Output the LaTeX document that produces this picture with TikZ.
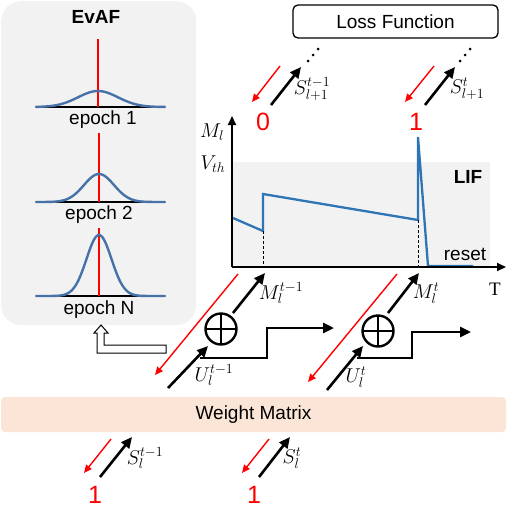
\RequirePackage{fix-cm}
\documentclass[tikz,border=0pt]{standalone}
\usepackage[no-math]{fontspec}
\setmainfont{Liberation Sans}
\newfontfamily\serifT{Liberation Serif}
\usetikzlibrary{arrows.meta}
\definecolor{panelgray}{RGB}{242,242,242}
\definecolor{peach}{RGB}{251,229,214}
\definecolor{gblue}{RGB}{70,114,168}
\definecolor{lifblue}{RGB}{46,117,182}
\definecolor{pured}{RGB}{255,0,0}
\begin{document}
\begin{tikzpicture}[x=1pt,y=-1pt,
  lbl/.style={font=\fontsize{19}{21}\selectfont, inner sep=0pt},
  blbl/.style={font=\fontsize{19}{21}\selectfont\bfseries, inner sep=0pt},
  mlbl/.style={font=\fontsize{20}{22}\selectfont, inner sep=0pt},
  digit/.style={font=\fontsize{25}{27}\selectfont, text=pured, inner sep=0pt},
  blkarrow/.style={line width=2.6pt, -{Triangle[length=11pt,width=10pt]}},
  redarrow/.style={draw=pured, line width=1.4pt, -{Triangle[length=8pt,width=7pt]}},
  gauss/.style={gblue, line width=2.4pt, line cap=round},
  plusnode/.style={circle, draw, line width=2.4pt, minimum size=31pt, inner sep=0pt, outer sep=0pt}
]
\useasboundingbox (0,0) rectangle (508,504);

% ---------- EvAF panel ----------
\node[fill=panelgray, rounded corners=20pt, minimum width=195pt, minimum height=324pt, anchor=north west, inner sep=0pt] (evaf) at (1,1) {};
\node[blbl] (evaftitle) at (96,17) {EvAF};

% epoch 1
\draw[line width=1.4pt] (38,107) -- (163,107);
\draw[pured, line width=2pt] (98,39) -- (98,107);
\draw[gauss] plot[domain=36:165, samples=80, smooth] (\x,{107-16*exp(-((\x-98)^2)/(2*20^2))});
\node[lbl] (ep1) at (103,120) {epoch 1};

% epoch 2
\draw[line width=1.4pt] (38,202) -- (163,202);
\draw[pured, line width=2pt] (99,133) -- (99,202);
\draw[gauss] plot[domain=36:165, samples=80, smooth] (\x,{202-28*exp(-((\x-99)^2)/(2*15^2))});
\node[lbl] (ep2) at (99,215) {epoch 2};

% epoch N
\draw[line width=1.4pt] (38,296) -- (163,296);
\draw[pured, line width=2pt] (99,228) -- (99,296);
\draw[gauss] plot[domain=36:165, samples=100, smooth] (\x,{296-61*exp(-((\x-99)^2)/(2*12.5^2))});
\node[lbl] (epN) at (99,310) {epoch N};

% hollow arrow
\draw[line width=1pt, fill=white, line join=miter]
  (97,353) -- (166,353) -- (166,345) -- (104,345) -- (104,333) -- (108,333)
  -- (101,325) -- (94,333) -- (97,333) -- cycle;

% ---------- Loss Function ----------
\node[draw, line width=1.3pt, rounded corners=5pt, minimum width=205pt, minimum height=33pt, inner sep=0pt,
      font=\fontsize{19}{21}\selectfont] (loss) at (395.5,21.5) {Loss Function};
\foreach \x/\y in {308/61,313/55,318/49, 460/61,465/55,470/49}
  \fill (\x,\y) circle (1.5pt);

% top arrows
\coordinate (r1s) at (280,66); \coordinate (r1e) at (252,102);
\coordinate (b1s) at (271,105); \coordinate (b1e) at (301,67);
\coordinate (r2s) at (434,66); \coordinate (r2e) at (405,102);
\coordinate (b2s) at (425,105); \coordinate (b2e) at (455,67);
\draw[redarrow] (r1s) -- (r1e);
\draw[blkarrow] (b1s) -- (b1e);
\draw[redarrow] (r2s) -- (r2e);
\draw[blkarrow] (b2s) -- (b2e);
\node[mlbl] (s1lbl) at (312,89) {$S^{t-1}_{l+1}$};
\node[mlbl] (s2lbl) at (467,89) {$S^{t}_{l+1}$};
\node[digit] (d0) at (263,122) {0};
\node[digit] (d1) at (416,122) {1};

% ---------- LIF chart ----------
\fill[panelgray] (232,162) rectangle (490,267);
\coordinate (orig) at (232,267);
\coordinate (ytip) at (232,116);
\coordinate (xtip) at (506,267);
\draw[lifblue, line width=2.3pt, line join=miter]
  (233,218) -- (263,231) -- (263,194) -- (418,220) -- (418,137) -- (428,266) -- (473,266);
\draw[line width=0.8pt, dash pattern=on 3pt off 2pt] (263,231) -- (263,267);
\draw[line width=0.8pt, dash pattern=on 3pt off 2pt] (418,220) -- (418,267);
\draw[line width=2pt, -{Triangle[length=9pt,width=8pt]}] (orig) -- (ytip);
\draw[line width=2pt, -{Triangle[length=9pt,width=8pt]}] (orig) -- (xtip);
\node[mlbl] (mlab) at (212,132) {$M_l$};
\node[mlbl] (vth) at (213,164) {$V_{th}$};
\node[blbl] (lif) at (468,177) {LIF};
\node[lbl] (reset) at (465,254) {reset};
\node[font=\fontsize{19}{21}\selectfont\serifT, inner sep=0pt] (T) at (495,289) {T};

% ---------- lower time steps ----------
% step t-1
\node[plusnode] (p1) at (221,329) {};
\draw[line width=2.4pt] (p1.north) -- (p1.south) (p1.west) -- (p1.east);
\coordinate (lr1s) at (238,274); \coordinate (lr1e) at (155,375);
\draw[redarrow] (lr1s) -- (lr1e);
\coordinate (m1s) at (233,313); \coordinate (m1e) at (265,273);
\draw[blkarrow] (m1s) -- (m1e);
\node[mlbl] (m1lbl) at (281,293) {$M^{t-1}_{l}$};
\coordinate (u1s) at (168,388); \coordinate (u1e) at (208,346);
\draw[blkarrow] (u1s) -- (u1e);
\node[mlbl] (u1lbl) at (214,375) {$U^{t-1}_{l}$};
\coordinate (st1a) at (200,358); \coordinate (st1b) at (267,358);
\coordinate (st1c) at (267,328); \coordinate (st1d) at (334,328);
\draw[line width=2.6pt, -{Triangle[length=11pt,width=10pt]}, line join=miter] (st1a) -- (st1b) -- (st1c) -- (st1d);

% step t
\node[plusnode] (p2) at (378,331) {};
\draw[line width=2.4pt] (p2.north) -- (p2.south) (p2.west) -- (p2.east);
\coordinate (lr2s) at (397,274); \coordinate (lr2e) at (308,382);
\draw[redarrow] (lr2s) -- (lr2e);
\coordinate (m2s) at (388,313); \coordinate (m2e) at (419,273);
\draw[blkarrow] (m2s) -- (m2e);
\node[mlbl] (m2lbl) at (426,293) {$M^{t}_{l}$};
\coordinate (u2s) at (327,390); \coordinate (u2e) at (363,346);
\draw[blkarrow] (u2s) -- (u2e);
\node[mlbl] (u2lbl) at (356,377) {$U^{t}_{l}$};
\coordinate (st2a) at (357,358); \coordinate (st2b) at (412,358);
\coordinate (st2c) at (412,332); \coordinate (st2d) at (471,332);
\draw[line width=2.6pt, -{Triangle[length=11pt,width=10pt]}, line join=miter] (st2a) -- (st2b) -- (st2c) -- (st2d);

% ---------- Weight Matrix ----------
\node[fill=peach, rounded corners=4pt, minimum width=505pt, minimum height=35pt, inner sep=0pt,
      font=\fontsize{19}{21}\selectfont] (wm) at (253.5,414.5) {Weight Matrix};

% bottom arrows
\coordinate (br1s) at (111,439); \coordinate (br1e) at (84,473);
\coordinate (bb1s) at (100,477); \coordinate (bb1e) at (132,437);
\coordinate (br2s) at (269,439); \coordinate (br2e) at (242,473);
\coordinate (bb2s) at (259,477); \coordinate (bb2e) at (290,437);
\draw[redarrow] (br1s) -- (br1e);
\draw[blkarrow] (bb1s) -- (bb1e);
\draw[redarrow] (br2s) -- (br2e);
\draw[blkarrow] (bb2s) -- (bb2e);
\node[mlbl] (sl1) at (145,458) {$S^{t-1}_{l}$};
\node[mlbl] (sl2) at (292,458) {$S^{t}_{l}$};
\node[digit] (b1) at (95,495) {1};
\node[digit] (b2) at (254,495) {1};
\end{tikzpicture}
\end{document}
